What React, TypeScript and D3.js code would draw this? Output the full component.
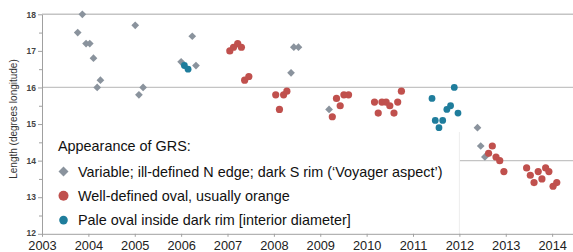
import React, {useEffect, useRef} from 'react'
import * as d3 from 'd3'

// Variable; ill-defined N edge; dark S rim
const greyYears = [2003.77, 2003.87, 2003.95, 2004.03, 2004.11, 2004.19, 2004.26, 2005.01, 2005.09, 2005.18,
  2006.0, 2006.24, 2006.32, 2008.37, 2008.43, 2008.53, 2009.19, 2012.39, 2012.46, 2012.55];
const greyValues = [17.5, 18.0, 17.2, 17.2, 16.8, 16.0, 16.2, 17.7, 15.8, 16.0,
  16.7, 17.4, 16.6, 16.4, 17.1, 17.1, 15.4, 14.9, 14.4, 14.1];

// Well-defined oval, usually orange
const redYears = [2007.05, 2007.13, 2007.22, 2007.3, 2007.37, 2007.46, 2008.04, 2008.12, 2008.21, 2008.28,
  2009.26, 2009.35, 2009.43, 2009.51, 2009.61, 2010.17, 2010.25, 2010.33, 2010.42, 2010.5, 2010.59, 2010.67, 2010.75,
  2012.63, 2012.71, 2012.79, 2012.87, 2012.96, 2013.45, 2013.53, 2013.61, 2013.7, 2013.78, 2013.86, 2013.93, 2014.02, 2014.1];
const redValues = [17.0, 17.1, 17.2, 17.1, 16.2, 16.3, 15.8, 15.4, 15.8, 15.9,
  15.2, 15.7, 15.5, 15.8, 15.8, 15.6, 15.3, 15.6, 15.6, 15.5, 15.3, 15.6, 15.9,
  14.2, 14.4, 14.1, 14.0, 13.7, 13.8, 13.6, 13.4, 13.7, 13.5, 13.8, 13.7, 13.3, 13.4];

// Pale oval inside dark rim
const tealYears = [2006.07, 2006.15, 2011.41, 2011.48, 2011.56, 2011.64, 2011.73, 2011.81, 2011.89, 2011.97];
const tealValues = [16.6, 16.5, 15.7, 15.1, 14.9, 15.1, 15.4, 15.5, 16.0, 15.3];

const yearTicks = [2003, 2004, 2005, 2006, 2007, 2008, 2009, 2010, 2011, 2012, 2013, 2014];
const valueTicks = [12, 13, 14, 15, 16, 17, 18];
const minorTicks = [12.5, 13.5, 14.5, 15.5, 16.5, 17.5];
const gridValues = [18, 16, 14];

const legendTitle = "Appearance of GRS:";
const legendLabels = [
  "Variable; ill-defined N edge; dark S rim (\u2018Voyager aspect\u2019)",
  "Well-defined oval, usually orange",
  "Pale oval inside dark rim [interior diameter]",
];

const GREY = "#8a939d";
const RED = "#c0504d";
const TEAL = "#1f7d9c";

export default function App() {
  const ref = useRef(null);

  useEffect(() => {
    const width = 573;
    const svg = d3.select(ref.current);
    svg.selectAll("*").remove();

    const x = d3.scaleLinear().domain([2003, 2014.45]).range([42, 573]);
    const y = d3.scaleLinear().domain([12, 18]).range([233.8, 14.3]);

    // gridlines
    svg.append("g").selectAll("line")
      .data(gridValues)
      .enter().append("line")
      .attr("x1", x(2003)).attr("x2", width)
      .attr("y1", d => y(d)).attr("y2", d => y(d))
      .attr("stroke", "#c4c4c4")
      .attr("stroke-width", d => d === 18 ? 1.6 : 1.2);

    // legend box covers part of the grid
    svg.append("rect")
      .attr("x", x(2003) + 1).attr("y", 132)
      .attr("width", x(2012) - x(2003) - 1).attr("height", y(12) - 132)
      .attr("fill", "#fff");
    svg.append("line")
      .attr("x1", x(2012)).attr("x2", x(2012))
      .attr("y1", 132).attr("y2", y(12))
      .attr("stroke", "#ededed");

    // x axis
    const xAxis = svg.append("g")
      .attr("transform", "translate(0," + y(12) + ")")
      .call(d3.axisBottom(x).tickValues(yearTicks).tickFormat(d3.format("d")).tickSize(3).tickSizeOuter(0));
    xAxis.select(".domain").attr("stroke", "#a0a0a0");
    xAxis.selectAll(".tick line").attr("stroke", "#a0a0a0");
    xAxis.selectAll(".tick text")
      .attr("y", 7).attr("dy", "0.71em")
      .attr("font-family", "Liberation Sans, Arial, sans-serif")
      .attr("font-size", 12.8).attr("fill", "#222");

    // y axis
    const yMinor = svg.append("g")
      .attr("transform", "translate(" + x(2003) + ",0)")
      .call(d3.axisLeft(y).tickValues(minorTicks).tickFormat(() => "").tickSize(3).tickSizeOuter(0));
    yMinor.select(".domain").remove();
    yMinor.selectAll(".tick line").attr("stroke", "#a0a0a0");
    const yAxis = svg.append("g")
      .attr("transform", "translate(" + x(2003) + ",0)")
      .call(d3.axisLeft(y).tickValues(valueTicks).tickFormat(d3.format("d")).tickSize(4).tickSizeOuter(0));
    yAxis.select(".domain").attr("stroke", "#a0a0a0");
    yAxis.selectAll(".tick line").attr("stroke", "#a0a0a0");
    yAxis.selectAll(".tick text")
      .attr("x", -6)
      .attr("dy", d => d === 12 ? "0.15em" : "0.32em")
      .attr("font-family", "Liberation Sans, Arial, sans-serif")
      .attr("font-size", 8.5).attr("font-weight", "bold").attr("fill", "#444");

    svg.append("text")
      .attr("transform", "translate(17,119) rotate(-90)")
      .attr("text-anchor", "middle")
      .attr("font-family", "Liberation Sans, Arial, sans-serif")
      .attr("font-size", 10).attr("fill", "#333")
      .text("Length (degrees longitude)");

    const diamond = d3.symbol().type(d3.symbolDiamond2);

    // grey diamonds
    svg.append("g").selectAll("path")
      .data(greyYears.map((d, i) => ({year: d, value: greyValues[i]})))
      .enter().append("path")
      .attr("d", diamond.size(38)())
      .attr("transform", d => "translate(" + x(d.year) + "," + y(d.value) + ")")
      .attr("fill", GREY);

    // red circles
    svg.append("g").selectAll("circle")
      .data(redYears.map((d, i) => ({year: d, value: redValues[i]})))
      .enter().append("circle")
      .attr("cx", d => x(d.year)).attr("cy", d => y(d.value))
      .attr("r", 3.6).attr("fill", RED);

    // teal circles
    svg.append("g").selectAll("circle")
      .data(tealYears.map((d, i) => ({year: d, value: tealValues[i]})))
      .enter().append("circle")
      .attr("cx", d => x(d.year)).attr("cy", d => y(d.value))
      .attr("r", 3.4).attr("fill", TEAL);

    // legend
    const legend = svg.append("g")
      .attr("font-family", "Liberation Sans, Arial, sans-serif")
      .attr("font-size", 14.4).attr("fill", "#111");
    legend.append("text").attr("x", 58).attr("y", 150.5).text(legendTitle);
    legendLabels.forEach((label, i) => {
      const cy = 171.5 + i * 24.3;
      if (i === 0) {
        legend.append("path")
          .attr("d", diamond.size(64)())
          .attr("transform", "translate(63.5," + cy + ")")
          .attr("fill", GREY);
      } else {
        legend.append("circle")
          .attr("cx", 63.5).attr("cy", cy)
          .attr("r", i === 1 ? 5 : 4.3)
          .attr("fill", i === 1 ? RED : TEAL);
      }
      legend.append("text").attr("x", 78).attr("y", cy + 5).text(label);
    });
  }, []);

  return (
    <div style={{position: "absolute", left: 0, top: 0}}>
      <svg ref={ref} width={573} height={252} style={{display: "block"}}></svg>
    </div>
  )
}
